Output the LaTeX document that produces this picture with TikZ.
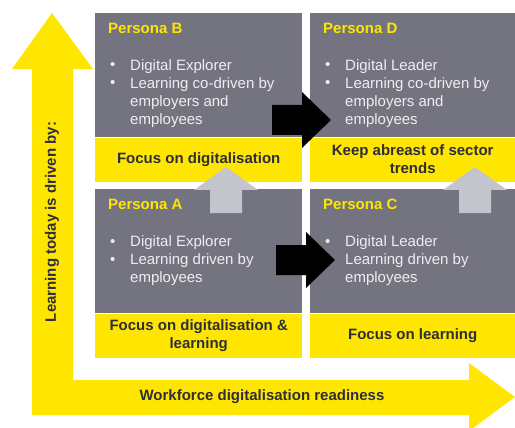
\documentclass[tikz,border=0pt]{standalone}
\usepackage{fontspec}
\setmainfont{Liberation Sans}
\usetikzlibrary{positioning}
\definecolor{eyyellow}{RGB}{255,230,0}
\definecolor{eygray}{RGB}{116,116,128}
\definecolor{eyink}{RGB}{46,46,56}
\definecolor{eylight}{RGB}{196,196,205}
\definecolor{eypaper}{RGB}{238,238,240}
\tikzset{
  panel/.style={fill=eygray,anchor=north west,inner sep=0pt,minimum height=124pt},
  band/.style={fill=eyyellow,anchor=north west,inner sep=0pt,minimum height=44pt,
    align=center,text=eyink,font=\fontsize{15}{18}\selectfont\bfseries},
  ptitle/.style={anchor=base west,inner sep=0pt,text=eyyellow,font=\fontsize{15}{18}\selectfont\bfseries},
  plist/.style={anchor=north west,inner sep=0pt,align=left,text=eypaper,font=\fontsize{15}{18}\selectfont},
  pdot/.style={anchor=base west,inner sep=0pt,text=eypaper,font=\fontsize{15}{18}\selectfont},
  axislabel/.style={text=eyink,font=\fontsize{15}{18}\selectfont\bfseries}
}
\begin{document}
\begin{tikzpicture}[x=1pt,y=-1pt]
    \useasboundingbox (0,0) rectangle (515,428);
    \fill[eyyellow] (12,69) -- (52,13) -- (93,69) -- (73,69) -- (73,380) -- (469,380) -- (469,363)
      -- (515,397) -- (469,431) -- (469,415) -- (32,415) -- (32,69) -- cycle;
    \node[axislabel,rotate=90] (ylab) at (52,222) {Learning today is driven by:};
    \node[axislabel] (xlab) at (262,397) {Workforce digitalisation readiness};
    \foreach \n/\x/\y/\w/\ia/\ib/\f in {
      B/95/13/207/Digital Explorer/Learning co-driven by\\employers and\\employees/Focus on digitalisation,
      D/310/13/205/Digital Leader/Learning co-driven by\\employers and\\employees/Keep abreast of sector\\trends,
      A/95/189/207/Digital Explorer/Learning driven by\\employees/Focus on digitalisation \&\\learning,
      C/310/189/205/Digital Leader/Learning driven by\\employees/Focus on learning}
    {
      \node[panel,minimum width=\w pt] (p\n) at (\x,\y) {};
      \node[band,minimum width=\w pt] (f\n) at (p\n.south west) {\f};
      \node[ptitle] (t\n) at ([xshift=13pt,yshift=-21pt]p\n.north west) {Persona \n};
      \node[plist] (l\n) at ([xshift=35pt,yshift=-46pt]p\n.north west) {\ia\\\ib};
      \node[pdot] at ([xshift=15pt,yshift=-57pt]p\n.north west) {•};
      \node[pdot] at ([xshift=15pt,yshift=-75pt]p\n.north west) {•};
    }
    \foreach \c in {226,475}
      \fill[eylight] (\c,167) -- ({\c+32},190) -- ({\c+16},190) -- ({\c+16},213) -- ({\c-16},213)
        -- ({\c-16},190) -- ({\c-32},190) -- cycle;
    \foreach \x/\y in {272/120,276/260}
      \fill[black] (\x,{\y-15}) -- ({\x+30},{\y-15}) -- ({\x+30},{\y-28}) -- ({\x+59},\y)
        -- ({\x+30},{\y+28}) -- ({\x+30},{\y+15}) -- (\x,{\y+15}) -- cycle;
\end{tikzpicture}
\end{document}
